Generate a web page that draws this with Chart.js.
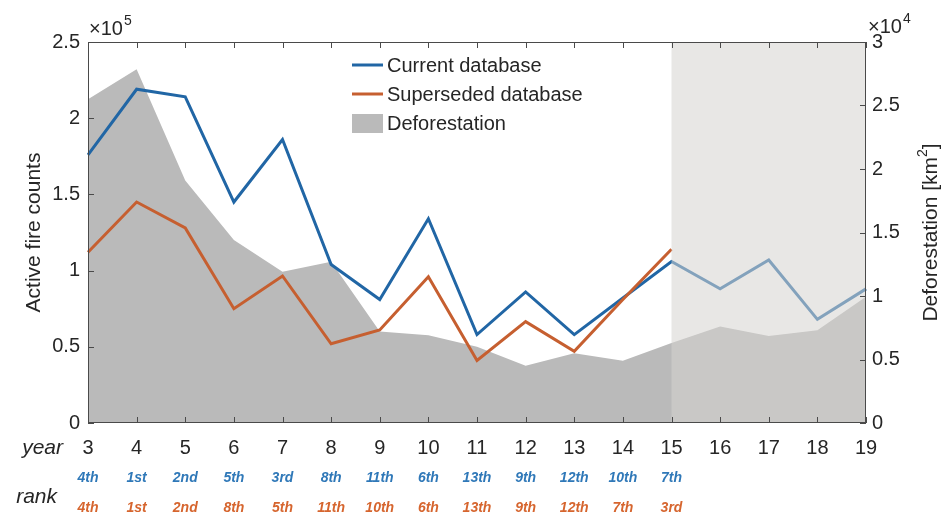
<!DOCTYPE html>
<html>
<head>
<meta charset="utf-8">
<title>Active fire counts and deforestation</title>
<script src="https://cdn.jsdelivr.net/npm/chart.js@4.4.1/dist/chart.umd.min.js"></script>
<style>
  html, body { margin: 0; padding: 0; background: #fff; }
  #wrap { width: 943px; height: 516px; }
</style>
</head>
<body>
<div id="wrap"><canvas id="fireChart" width="943" height="516"></canvas></div>
<script>
// years 2003-2019, shown as two-digit labels
const years = ['3', '4', '5', '6', '7', '8', '9', '10', '11', '12', '13', '14', '15', '16', '17', '18', '19'];

// active fire counts (left axis)
const currentDb = [176000, 219000, 214000, 145000, 186000, 104000, 81000, 134000, 58000, 86000, 58000, 82000, 106000, 88000, 107000, 68000, 88000];
const supersededDb = [112000, 145000, 128000, 75000, 96500, 52000, 61000, 96000, 41000, 66500, 47000, 81000, 114000, null, null, null, null];

// deforestation in km2 (right axis)
const deforestation = [25500, 27850, 19100, 14400, 11900, 12700, 7200, 6900, 6000, 4500, 5500, 4900, 6300, 7600, 6850, 7300, 9950];

// yearly rank of each database, years 3-15
const rankCurrent = ['4th', '1st', '2nd', '5th', '3rd', '8th', '11th', '6th', '13th', '9th', '12th', '10th', '7th'];
const rankSuperseded = ['4th', '1st', '2nd', '8th', '5th', '11th', '10th', '6th', '13th', '9th', '12th', '7th', '3rd'];

// years only covered by the current database
const shadeFrom = '15';

const FONT = '"Liberation Sans", Arial, Helvetica, sans-serif';
const INK = '#262626';
const BLUE = '#2166a5';
const RED = '#c65f30';
const GREY = '#bababa';

Chart.defaults.font.family = FONT;
Chart.defaults.color = INK;

const fmt = v => String(Math.round(v * 10) / 10);

// shading, axis box, inner ticks, exponents, legend and rank rows
const figureExtras = {
    id: 'figureExtras',
    afterDatasetsDraw(chart) {
        const { ctx, chartArea: a, scales: { x, y, y1 } } = chart;
        ctx.save();

        // light band over the years after the superseded record ends
        const xs = x.getPixelForValue(years.indexOf(shadeFrom));
        ctx.fillStyle = 'rgba(214, 211, 208, 0.55)';
        ctx.fillRect(xs, a.top, a.right - xs, a.bottom - a.top);

        // box
        ctx.strokeStyle = '#4a4a4a';
        ctx.lineWidth = 1;
        ctx.strokeRect(a.left + 0.5, a.top + 0.5, a.right - a.left - 1, a.bottom - a.top - 1);

        // inward ticks
        const tl = 6;
        ctx.beginPath();
        years.forEach((_, i) => {
            const px = Math.round(x.getPixelForValue(i)) + 0.5;
            ctx.moveTo(px, a.bottom); ctx.lineTo(px, a.bottom - tl);
            ctx.moveTo(px, a.top); ctx.lineTo(px, a.top + tl);
        });
        y.ticks.forEach(t => {
            const py = Math.round(y.getPixelForValue(t.value)) + 0.5;
            ctx.moveTo(a.left, py); ctx.lineTo(a.left + tl, py);
        });
        y1.ticks.forEach(t => {
            const py = Math.round(y1.getPixelForValue(t.value)) + 0.5;
            ctx.moveTo(a.right, py); ctx.lineTo(a.right - tl, py);
        });
        ctx.stroke();

        // axis exponents
        const exponent = (x0, base, pow) => {
            ctx.fillStyle = INK;
            ctx.textAlign = 'left';
            ctx.textBaseline = 'alphabetic';
            ctx.font = '20px ' + FONT;
            ctx.fillText('\u00d710', x0, base);
            const w = ctx.measureText('\u00d710').width;
            ctx.font = '14px ' + FONT;
            ctx.fillText(pow, x0 + w + 1, base - 10);
        };
        exponent(a.left + 1, a.top - 7, '5');
        exponent(a.right + 2, a.top - 9, '4');

        // right axis title, reading upwards like the left one
        ctx.save();
        ctx.translate(931, (a.top + a.bottom) / 2);
        ctx.rotate(-Math.PI / 2);
        ctx.fillStyle = INK;
        ctx.textBaseline = 'middle';
        ctx.textAlign = 'left';
        const main = 'Deforestation [km';
        ctx.font = '21px ' + FONT;
        const wMain = ctx.measureText(main).width;
        ctx.font = '14px ' + FONT;
        const wSup = ctx.measureText('2').width;
        ctx.font = '21px ' + FONT;
        const wEnd = ctx.measureText(']').width;
        const x0 = -(wMain + wSup + wEnd) / 2;
        ctx.fillText(main, x0, 0);
        ctx.font = '14px ' + FONT;
        ctx.fillText('2', x0 + wMain, -8);
        ctx.font = '21px ' + FONT;
        ctx.fillText(']', x0 + wMain + wSup, 0);
        ctx.restore();

        // legend
        const lx = a.left + 264, ly = a.top + 23, gap = 29;
        const entries = chart.data.datasets;
        ctx.font = '20px ' + FONT;
        ctx.textBaseline = 'middle';
        ctx.textAlign = 'left';
        entries.forEach((ds, i) => {
            const ey = ly + i * gap;
            if (ds.fill) {
                ctx.fillStyle = ds.backgroundColor;
                ctx.fillRect(lx, ey - 9, 31, 19);
            } else {
                ctx.strokeStyle = ds.borderColor;
                ctx.lineWidth = 3;
                ctx.beginPath();
                ctx.moveTo(lx, ey); ctx.lineTo(lx + 31, ey);
                ctx.stroke();
            }
            ctx.fillStyle = INK;
            ctx.fillText(ds.label, lx + 35, ey + 1);
        });

        // row captions and ranks under the year axis
        ctx.font = 'italic 21px ' + FONT;
        ctx.textAlign = 'right';
        ctx.fillStyle = INK;
        ctx.fillText('year', a.left - 25, a.bottom + 25);
        ctx.fillText('rank', a.left - 31, a.bottom + 74);

        ctx.font = 'italic bold 14px ' + FONT;
        ctx.textAlign = 'center';
        const rankRow = (ranks, color, ry) => {
            ctx.fillStyle = color;
            ranks.forEach((r, i) => ctx.fillText(r, x.getPixelForValue(i), ry));
        };
        rankRow(rankCurrent, '#2f78b8', a.bottom + 55);
        rankRow(rankSuperseded, '#d6652e', a.bottom + 85);

        ctx.restore();
    }
};

new Chart(document.getElementById('fireChart'), {
    type: 'line',
    data: {
        labels: years,
        datasets: [
            {
                label: 'Current database',
                data: currentDb,
                yAxisID: 'y',
                borderColor: BLUE,
                borderWidth: 3,
                pointRadius: 0,
                tension: 0,
                order: 2
            },
            {
                label: 'Superseded database',
                data: supersededDb,
                yAxisID: 'y',
                borderColor: RED,
                borderWidth: 3,
                pointRadius: 0,
                tension: 0,
                order: 1
            },
            {
                label: 'Deforestation',
                data: deforestation,
                yAxisID: 'y1',
                fill: 'origin',
                backgroundColor: GREY,
                borderColor: GREY,
                borderWidth: 0,
                pointRadius: 0,
                tension: 0,
                order: 3
            }
        ]
    },
    options: {
        responsive: false,
        animation: false,
        layout: { padding: { top: 42, left: 0, right: 0, bottom: 0 } },
        plugins: {
            legend: { display: false },
            tooltip: { enabled: false }
        },
        scales: {
            x: {
                type: 'category',
                offset: false,
                grid: { display: false, drawTicks: false },
                border: { display: false },
                ticks: { font: { size: 20 }, padding: 13, maxRotation: 0, autoSkip: false },
                afterFit: s => { s.height = 93; }
            },
            y: {
                position: 'left',
                min: 0,
                max: 250000,
                grid: { display: false, drawTicks: false },
                border: { display: false },
                ticks: { stepSize: 50000, font: { size: 20 }, padding: 8, callback: v => fmt(v / 1e5) },
                title: { display: true, text: 'Active fire counts', font: { size: 21 }, padding: { top: 22, bottom: 0 } },
                afterFit: s => { s.width = 88; }
            },
            y1: {
                position: 'right',
                min: 0,
                max: 30000,
                grid: { display: false, drawTicks: false },
                border: { display: false },
                ticks: { stepSize: 5000, font: { size: 20 }, padding: 6, callback: v => fmt(v / 1e4) },
                afterFit: s => { s.width = 77; }
            }
        }
    },
    plugins: [figureExtras]
});
</script>
</body>
</html>
